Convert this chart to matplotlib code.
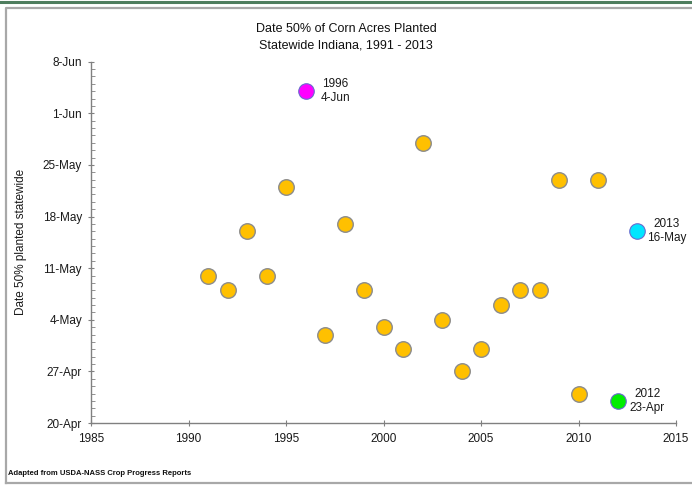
import datetime as dt
import matplotlib
matplotlib.use("Agg")
import matplotlib.pyplot as plt
import matplotlib.dates as mdates
from matplotlib.lines import Line2D

plt.rcParams['font.family'] = ['Liberation Sans', 'DejaVu Sans']

years = [1991, 1992, 1993, 1994, 1995, 1996, 1997, 1998, 1999, 2000, 2001, 2002,
         2003, 2004, 2005, 2006, 2007, 2008, 2009, 2010, 2011, 2012, 2013]
dates = ["10-May", "8-May", "16-May", "10-May", "22-May", "4-Jun", "2-May", "17-May",
         "8-May", "3-May", "30-Apr", "28-May", "4-May", "27-Apr", "30-Apr", "6-May",
         "8-May", "8-May", "23-May", "24-Apr", "23-May", "23-Apr", "16-May"]
highlight = {1996: "#FF00FF", 2012: "#00EE00", 2013: "#00E5FF"}
ytick_labels = ["20-Apr", "27-Apr", "4-May", "11-May", "18-May", "25-May", "1-Jun", "8-Jun"]
xticks = [1985, 1990, 1995, 2000, 2005, 2010, 2015]

def to_num(s):
    return mdates.date2num(dt.datetime.strptime(s + "-2001", "%d-%b-%Y"))

yvals = [to_num(d) for d in dates]
yticks = [to_num(d) for d in ytick_labels]

fig = plt.figure(figsize=(6.92, 4.87), dpi=100)
ax = fig.add_axes([0.1315, 0.1314, 0.8454, 0.7419])

normal_x = [x for x in years if x not in highlight]
normal_y = [y for x, y in zip(years, yvals) if x not in highlight]
ax.scatter(normal_x, normal_y, s=125, c="#FFC000", edgecolors="#8C8C8C",
           linewidths=1.0, zorder=3)
for yr, col in highlight.items():
    i = years.index(yr)
    ax.scatter([yr], [yvals[i]], s=125, c=col, edgecolors="#6A6ACF",
               linewidths=0.8, zorder=3)
    ax.annotate(f"{yr}\n{dates[i]}", (yr, yvals[i]), xytext=(21.5, 0),
                textcoords="offset points", ha="center", va="center",
                multialignment="center", fontsize=8.5, color="#1A1A1A",
                linespacing=1.25)

ax.set_xlim(1985, 2015)
ax.set_ylim(yticks[0], yticks[-1])
ax.set_xticks(xticks)
ax.set_xticklabels([str(x) for x in xticks])
ax.set_yticks(yticks)
ax.set_yticklabels(ytick_labels)
ax.yaxis.set_minor_locator(mdates.DayLocator())

for side in ("top", "right"):
    ax.spines[side].set_visible(False)
for side in ("left", "bottom"):
    ax.spines[side].set_color("#808080")
    ax.spines[side].set_linewidth(1.0)

ax.tick_params(axis="both", which="major", direction="inout", length=5,
               color="#808080", labelsize=8.5, labelcolor="#1A1A1A", pad=4)
ax.tick_params(axis="x", which="major", pad=5)
ax.tick_params(axis="y", which="minor", direction="in", length=3, color="#808080")

ax.set_ylabel("Date 50% planted statewide", fontsize=8.5, color="#1A1A1A", labelpad=11)

fig.text(0.5, 0.941, "Date 50% of Corn Acres Planted", ha="center", va="center",
         fontsize=9, color="#111111")
fig.text(0.5, 0.906, "Statewide Indiana, 1991 - 2013", ha="center", va="center",
         fontsize=9, color="#111111")
fig.text(0.012, 0.027, "Adapted from USDA-NASS Crop Progress Reports", ha="left",
         va="center", fontsize=5.5, fontweight="bold", color="#111111")

W, H = 692, 487
fig.add_artist(Line2D([0, 1], [1 - 1.5 / H, 1 - 1.5 / H], color="#4E7D5E",
                      linewidth=2.2, transform=fig.transFigure))
fig.add_artist(Line2D([5.5 / W, 5.5 / W, 1.0], [(H - 483) / H, (H - 7.5) / H, (H - 7.5) / H],
                      color="#A8A8A8", linewidth=1.6, transform=fig.transFigure))
fig.add_artist(Line2D([5.5 / W, 1.0], [(H - 483) / H, (H - 483) / H],
                      color="#A8A8A8", linewidth=1.6, transform=fig.transFigure))

fig.savefig("out.png", dpi=100)
